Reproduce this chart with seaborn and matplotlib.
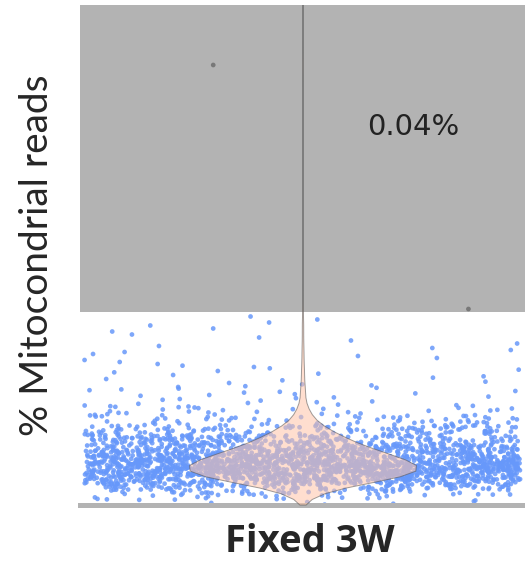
import numpy as np
import pandas as pd
import matplotlib
matplotlib.use("Agg")
import matplotlib.pyplot as plt
from matplotlib.transforms import ScaledTranslation
import seaborn as sns

# ---- data ----
sample_label = "Fixed 3W"
y_label = "% Mitocondrial reads"
annotation = "0.04%"
bin_edges = [0.0, 0.5, 1.0, 1.5, 2.0, 2.5, 3.0, 3.5, 4.0, 4.5, 5.0, 5.5, 6.0,
             7.0, 8.0, 9.0, 10.0, 12.0, 14.0, 16.0, 19.0]
bin_counts = [6, 20, 45, 90, 160, 230, 280, 290, 270, 230, 195, 165,
              230, 130, 60, 30, 25, 15, 10, 10]
outlier_values = [44.0, 19.6, 56.0]
threshold = 19.3
y_max = 50.0

values = []
for lo, hi, n in zip(bin_edges[:-1], bin_edges[1:], bin_counts):
    step = (hi - lo) / n
    values.extend(lo + step * (np.arange(n) + 0.5))
values.extend(outlier_values)
df = pd.DataFrame({"sample": sample_label, "mito": values})
df["flag"] = np.where(df["mito"] > threshold, "high", "normal")

sns.set_style("white")
plt.rcParams["font.family"] = ["Lato", "DejaVu Sans"]

fig = plt.figure(figsize=(5.25, 5.63), dpi=100)
ax = fig.add_axes([80 / 525, 58 / 563, 445 / 525, 500 / 563])
ax.axhspan(threshold, y_max, color="#b3b3b3", zorder=0, lw=0)

np.random.seed(3)
sns.stripplot(data=df, x="sample", y="mito", hue="flag",
              palette={"normal": "#6798fa", "high": "#6e6e6e"},
              jitter=0.49, size=3.4, linewidth=0, alpha=0.85, legend=False,
              ax=ax, zorder=2)
sns.violinplot(data=df, x="sample", y="mito", color="#ffc4a8", saturation=1,
               width=0.51, cut=0, inner=None, linecolor="#505050",
               linewidth=0.7, alpha=0.55, ax=ax, zorder=3)

ax.set_xlim(-0.5, 0.5)
ax.set_ylim(0, y_max)
ax.set_yticks([])
ax.set_xticks([0], [sample_label], fontsize=27.5, fontweight="bold",
              family=["Open Sans", "DejaVu Sans"])
ax.tick_params(axis="x", length=0, pad=13)
for lbl in ax.get_xticklabels():
    lbl.set_transform(lbl.get_transform() +
                      ScaledTranslation(0.07, 0, fig.dpi_scale_trans))
ax.set_xlabel("")
ax.set_ylabel(y_label, fontsize=28, labelpad=18)
for s in ["left", "top", "right"]:
    ax.spines[s].set_visible(False)
ax.spines["bottom"].set_color("#b3b3b3")
ax.spines["bottom"].set_linewidth(3.6)

ax.text(0.748, 0.756, annotation, transform=ax.transAxes, ha="center",
        va="center", fontsize=21, family="DejaVu Sans", color="#222222")

fig.savefig("out.png", dpi=100)
